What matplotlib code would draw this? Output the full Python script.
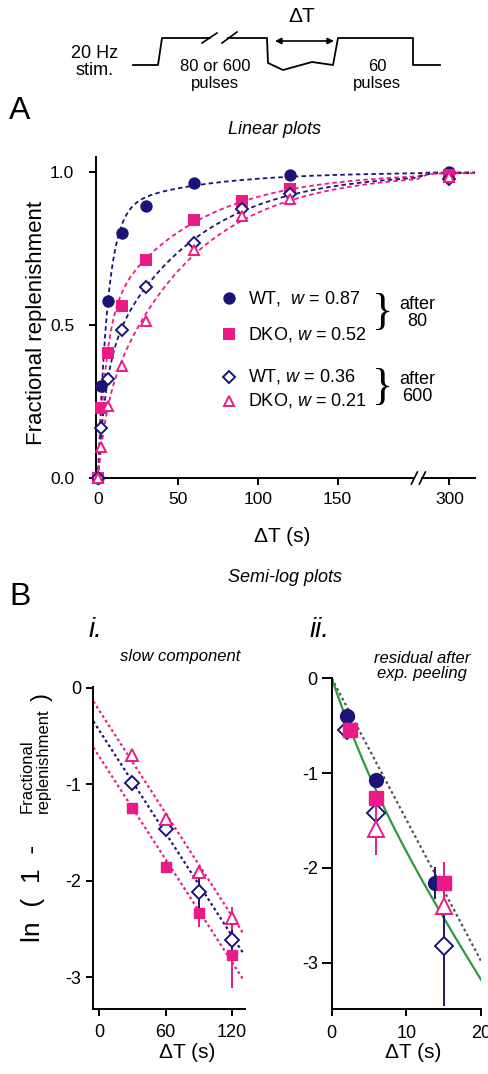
import numpy as np
import matplotlib
matplotlib.use("Agg")
import matplotlib.pyplot as plt

plt.rcParams['font.family'] = ['Liberation Sans', 'DejaVu Sans']
plt.rcParams['mathtext.fontset'] = 'custom'
plt.rcParams['mathtext.rm'] = 'Liberation Sans'
plt.rcParams['mathtext.it'] = 'Liberation Sans:italic'
plt.rcParams['axes.unicode_minus'] = False

NAVY = '#1b1478'
PINK = '#ec1a85'
GREEN = '#2f9a3a'
GRAY = '#555555'

# --- A : fractional replenishment vs interval (s)
t_a = [0, 2, 6, 15, 30, 60, 90, 120, 300]
wt80 = [0, 0.30, 0.58, 0.80, 0.89, 0.965, np.nan, 0.99, 1.0]
dko80 = [0, 0.228, 0.41, 0.562, 0.712, 0.845, 0.905, 0.945, 0.99]
wt600 = [0, 0.165, 0.325, 0.484, 0.625, 0.769, 0.881, 0.93, 0.979]
dko600 = [0, 0.10, 0.235, 0.366, 0.514, 0.745, 0.856, 0.914, 0.985]

# biexponential fits: weight of fast component, tau fast, tau slow
w_fit = [0.87, 0.52, 0.36, 0.21]
tau_fast = [6.0, 5.0, 5.0, 5.0]
tau_slow = [55.0, 56.0, 56.0, 56.0]
legend_txt = ['WT,  $w$ = 0.87', 'DKO, $w$ = 0.52', 'WT, $w$ = 0.36', 'DKO, $w$ = 0.21']

# --- B i : slow component, ln(1 - F)
t_b1 = [30, 60, 90, 120]
dko600_ln = [-0.70, -1.36, -1.91, -2.39]
dko600_ln_err = [0.04, 0.05, 0.06, 0.12]
wt600_ln = [-0.986, -1.467, -2.115, -2.62]
wt600_ln_err = [0.03, 0.06, 0.18, 0.15]
dko80_ln = [-1.245, -1.855, -2.33, -2.77]
dko80_ln_err = [0.03, 0.06, 0.15, 0.34]
slow_icpt = [-0.238, -0.444, -0.716]   # dko600, wt600, dko80
slow_slope = -0.0177

# --- B ii : residual after peeling
t_wt80_r = [2.0, 6.0, 13.8]
wt80_r = [-0.40, -1.07, -2.16]
wt80_r_err = [0.03, 0.05, 0.17]
t_dko80_r = [2.5, 6.0, 15.0]
dko80_r = [-0.54, -1.26, -2.16]
dko80_r_err = [0.03, 0.05, 0.22]
t_wt600_r = [2.0, 6.0, 15.0]
wt600_r = [-0.545, -1.425, -2.82]
wt600_r_err = [0.03, 0.12, 0.64]
t_dko600_r = [6.0, 15.0]
dko600_r = [-1.59, -2.40]
dko600_r_err = [0.27, 0.10]
fast_slope = -0.149            # grey single exponential
green_p, green_t1, green_t2 = 0.5, 3.0, 8.0


def replen(t, w, tf, ts):
    return 1 - w * np.exp(-t / tf) - (1 - w) * np.exp(-t / ts)


def fwd(x):
    x = np.asarray(x, float)
    return np.where(x <= 200, x, np.where(x <= 290, 200 + (x - 200) / 9, x - 80))


def inv(y):
    y = np.asarray(y, float)
    return np.where(y <= 200, y, np.where(y <= 210, 200 + (y - 200) * 9, y + 80))


def style(ax, size=12.5):
    for s in ['top', 'right']:
        ax.spines[s].set_visible(False)
    for s in ['left', 'bottom']:
        ax.spines[s].set_linewidth(1.4)
    ax.tick_params(direction='out', length=5, width=1.4, labelsize=size, pad=3)


fig = plt.figure(figsize=(4.89, 10.74), dpi=100)

# ---------------- panel A
ax = fig.add_axes([96.4 / 489, 1 - 478 / 1074, (475 - 96.4) / 489, (478 - 157) / 1074])
style(ax, 12.5)
ax.tick_params(axis='y', pad=11)
ax.tick_params(axis='x', pad=5)
ax.set_xscale('function', functions=(fwd, inv))
tt = np.linspace(0, 320, 800)
series = [wt80, dko80, wt600, dko600]
cols = [NAVY, PINK, NAVY, PINK]
marks = ['o', 's', 'D', '^']
msz = [7.5, 6.5, 6.0, 7.0]
for i in range(4):
    ax.plot(tt, replen(tt, w_fit[i], tau_fast[i], tau_slow[i]), ls=(0, (2.5, 1.8)),
            color=cols[i], lw=1.3, zorder=2)
for i in [0, 1, 2, 3]:
    filled = i < 2
    ax.plot(t_a, series[i], ls='none', marker=marks[i], ms=msz[i], color=cols[i],
            mfc=cols[i] if filled else 'white', mec=cols[i], mew=1.4,
            clip_on=False, zorder=3)
ax.set_xlim(-1, 316)
ax.set_ylim(0, 1.05)
ax.set_xticks([0, 50, 100, 150, 300])
ax.set_xticklabels(['0', '50', '100', '150', '300'])
ax.set_yticks([0, 0.5, 1.0])
ax.set_yticklabels(['0.0', '0.5', '1.0'])
ax.minorticks_off()

# ---------------- panel B i
b1 = fig.add_axes([92.7 / 489, 1 - 1009 / 1074, (245 - 92.7) / 489, (1009 - 686.7) / 1074])
style(b1, 13)
b1.tick_params(axis='x', pad=6)
tl = np.array([-5.4, 130])
for icpt, c in zip(slow_icpt, [PINK, NAVY, PINK]):
    b1.plot(tl, icpt + slow_slope * tl, ls=(0, (1.2, 1.3)), color=c, lw=1.6, zorder=2)
b1.errorbar(t_b1, dko80_ln, yerr=dko80_ln_err, fmt='s', ms=7, color=PINK,
            elinewidth=1.4, capsize=0, zorder=3)
b1.errorbar(t_b1, wt600_ln, yerr=wt600_ln_err, fmt='D', ms=7, color=NAVY, mfc='white',
            mew=1.4, elinewidth=1.4, capsize=0, zorder=3)
b1.errorbar(t_b1, dko600_ln, yerr=dko600_ln_err, fmt='^', ms=8.5, color=PINK, mfc='white',
            mew=1.4, elinewidth=1.4, capsize=0, zorder=3)
b1.set_xlim(-6, 132)
b1.set_ylim(-3.33, 0.01)
b1.set_xticks([0, 60, 120])
b1.set_yticks([0, -1, -2, -3])

# ---------------- panel B ii
b2 = fig.add_axes([331.7 / 489, 1 - 1009.3 / 1074, (481 - 331.7) / 489, (1009.3 - 678.3) / 1074])
style(b2, 13)
b2.tick_params(axis='x', pad=6)
b2.tick_params(axis='y', length=7)
tg = np.linspace(0, 20, 200)
b2.plot(tg, fast_slope * tg, ls=(0, (1.2, 1.3)), color=GRAY, lw=1.6, zorder=2)
b2.plot(tg, np.log(green_p * np.exp(-tg / green_t1) + (1 - green_p) * np.exp(-tg / green_t2)),
        color=GREEN, lw=1.6, zorder=2)
b2.errorbar(t_wt80_r, wt80_r, yerr=wt80_r_err, fmt='o', ms=10, color=NAVY,
            elinewidth=1.4, capsize=0, zorder=3)
b2.errorbar(t_wt600_r, wt600_r, yerr=wt600_r_err, fmt='D', ms=9, color=NAVY, mfc='white',
            mew=1.4, elinewidth=1.4, capsize=0, zorder=3)
b2.errorbar(t_dko80_r, dko80_r, yerr=dko80_r_err, fmt='s', ms=9.5, color=PINK,
            elinewidth=1.4, capsize=0, zorder=4)
b2.errorbar(t_dko600_r, dko600_r, yerr=dko600_r_err, fmt='^', ms=11, color=PINK, mfc='white',
            mew=1.4, elinewidth=1.4, capsize=0, zorder=5)
b2.set_xlim(0, 20)
b2.set_ylim(-3.49, 0)
b2.set_xticks([0, 10, 20])
b2.set_yticks([0, -1, -2, -3])

# ---------------- overlay (pixel coordinates, y downwards)
ov = fig.add_axes([0, 0, 1, 1], zorder=10)
ov.set_xlim(0, 489)
ov.set_ylim(1074, 0)
ov.axis('off')
ov.patch.set_alpha(0)

# stimulus diagram
ov.plot([133, 158, 162, 210], [65, 65, 38, 38], color='k', lw=1.3)
ov.plot([228, 267, 268, 283, 312, 333, 338, 413, 413, 440],
        [38, 38, 63, 70, 62, 65, 38, 38, 65, 65], color='k', lw=1.3)
ov.plot([202, 217], [43, 33], color='k', lw=1.2)
ov.plot([222, 237], [43, 32], color='k', lw=1.2)
ov.annotate('', xy=(275, 41), xytext=(334, 41),
            arrowprops=dict(arrowstyle='<|-|>', color='k', lw=1.2, mutation_scale=9,
                            shrinkA=0, shrinkB=0))
ov.text(302, 17, 'ΔT', ha='center', va='center', fontsize=15)
ov.text(95, 62, '20 Hz\nstim.', ha='center', va='center', fontsize=13, linespacing=1.0)
ov.text(215, 75, '80 or 600\npulses', ha='center', va='center', fontsize=12, linespacing=1.1)
ov.text(377, 75, '60\npulses', ha='center', va='center', fontsize=12, linespacing=1.1)

# x-axis break in panel A
bx, by = ax.transData.transform((205, 0))
by = 1074 - by
ov.plot([bx - 3, bx + 3], [by, by], color='white', lw=3, solid_capstyle='butt')
ov.plot([bx - 7, bx - 1], [by + 6, by - 6], color='k', lw=1.2)
ov.plot([bx + 1, bx + 7], [by + 6, by - 6], color='k', lw=1.2)

ov.text(20, 111, 'A', ha='center', va='center', fontsize=23)
ov.text(274, 130, 'Linear plots', ha='center', va='center', fontsize=13, style='italic')
ov.text(37, 323, 'Fractional replenishment', ha='center', va='center', fontsize=16, rotation=90)
ov.text(282, 537, 'ΔT (s)', ha='center', va='center', fontsize=15)

# legend of panel A
leg_y = [298, 334, 377, 401]
for i in range(4):
    filled = i < 2
    ov.plot([229], [leg_y[i]], ls='none', marker=marks[i], ms=msz[i], color=cols[i],
            mfc=cols[i] if filled else 'white', mec=cols[i], mew=1.4)
    ov.text(248, leg_y[i], legend_txt[i], ha='left', va='center', fontsize=13)
for yb, lab in [(313, 'after\n80'), (388, 'after\n600')]:
    ov.text(383, yb, '}', ha='center', va='center', fontsize=32, family='Liberation Serif')
    ov.text(417, yb, lab, ha='center', va='center', fontsize=13, linespacing=1.05)

ov.text(20, 597, 'B', ha='center', va='center', fontsize=23)
ov.text(285, 578, 'Semi-log plots', ha='center', va='center', fontsize=13, style='italic')
ov.text(95, 630, 'i.', ha='center', va='center', fontsize=20, style='italic')
ov.text(320, 630, 'ii.', ha='center', va='center', fontsize=20, style='italic')
ov.text(180, 656, 'slow component', ha='center', va='center', fontsize=12, style='italic')
ov.text(422, 666, 'residual after\nexp. peeling', ha='center', va='center', fontsize=12,
        style='italic', linespacing=1.0)

# y label of B i
ov.text(33, 942, 'ln  (  1  -', ha='left', va='center', fontsize=19, rotation=90,
        rotation_mode='anchor')
ov.text(27, 813, 'Fractional', ha='left', va='center', fontsize=12, rotation=90,
        rotation_mode='anchor')
ov.text(43, 813, 'replenishment', ha='left', va='center', fontsize=12, rotation=90,
        rotation_mode='anchor')
ov.text(42, 697, ')', ha='center', va='center', fontsize=17, rotation=90)

ov.text(187, 1053, 'ΔT (s)', ha='center', va='center', fontsize=15)
ov.text(413, 1053, 'ΔT (s)', ha='center', va='center', fontsize=15)

fig.savefig('out.png', dpi=100)
